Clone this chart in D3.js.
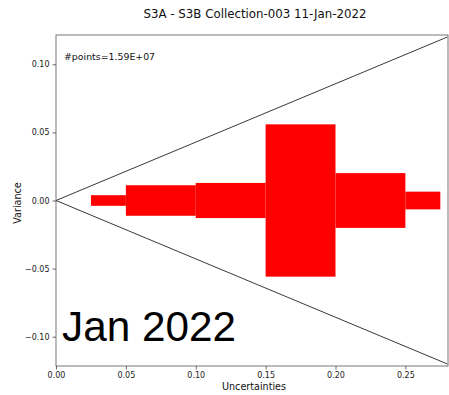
<!DOCTYPE html>
<html><head><meta charset="utf-8">
<script src="https://cdn.jsdelivr.net/npm/d3@7"></script>
<style>body{margin:0;background:#fff}svg{display:block}</style>
</head><body>
<script>
const binStart = [0.025, 0.05, 0.10, 0.15, 0.20, 0.25];
const binEnd   = [0.05, 0.10, 0.15, 0.20, 0.25, 0.275];
const halfSpread = [0.0039, 0.0112, 0.0129, 0.0559, 0.0201, 0.0065];
const xTicks = [0.00, 0.05, 0.10, 0.15, 0.20, 0.25];
const yTicks = [-0.10, -0.05, 0.00, 0.05, 0.10];
const envelopeX = [0, 0.28];
const envelopeY = [0, 0.12];
const titleText = "S3A - S3B Collection-003 11-Jan-2022";
const pointsText = "#points=1.59E+07";
const bigText = "Jan 2022";

const W = 449, H = 395;
const m = {left:56, right:448, top:35, bottom:366};
const svg = d3.select("body").append("svg").attr("width", W).attr("height", H);
const x = d3.scaleLinear().domain([0, 0.2805]).range([m.left, m.right]);
const y = d3.scaleLinear().domain([-0.1215, 0.1215]).range([m.bottom, m.top]);

const font = "DejaVu Sans";
svg.append("g").selectAll("rect").data(binStart).join("rect")
  .attr("x", (d,i)=>x(d))
  .attr("width", (d,i)=>x(binEnd[i]) - x(d))
  .attr("y", (d,i)=>y(halfSpread[i]))
  .attr("height", (d,i)=>y(-halfSpread[i]) - y(halfSpread[i]))
  .attr("fill", "#ff0000");

const line = d3.line().x(d=>x(d[0])).y(d=>y(d[1]));
[1,-1].forEach(s=>{
  svg.append("path")
    .attr("d", line(envelopeX.map((v,i)=>[v, s*envelopeY[i]])))
    .attr("stroke", "#222").attr("stroke-width", 0.9).attr("fill", "none");
});

svg.append("rect").attr("x", m.left).attr("y", m.top)
  .attr("width", m.right - m.left).attr("height", m.bottom - m.top)
  .attr("fill", "none").attr("stroke", "#555").attr("stroke-width", 0.8);

const fmtX = d3.format(".2f");
const fmtY = v => (v < 0 ? "\u2212" : "") + d3.format(".2f")(Math.abs(v));
const gx = svg.append("g").attr("transform", `translate(0,${m.bottom})`)
  .call(d3.axisBottom(x).tickValues(xTicks).tickFormat(fmtX).tickSize(3.5).tickPadding(3));
const gy = svg.append("g").attr("transform", `translate(${m.left},0)`)
  .call(d3.axisLeft(y).tickValues(yTicks).tickFormat(fmtY).tickSize(3.5).tickPadding(3));
[gx, gy].forEach(g=>{
  g.select(".domain").remove();
  g.selectAll("line").attr("stroke", "#444").attr("stroke-width", 0.8);
  g.selectAll("text").attr("font-family", font).attr("font-size", 8).attr("fill", "#222");
});

svg.append("text").attr("x", 254).attr("y", 366 + 24).attr("text-anchor", "middle")
  .attr("font-family", font).attr("font-size", 9.6).attr("fill", "#111").text("Uncertainties");
svg.append("text").attr("transform", "translate(21,203) rotate(-90)").attr("text-anchor", "middle")
  .attr("font-family", font).attr("font-size", 9.6).attr("fill", "#111").text("Variance");
svg.append("text").attr("x", 255).attr("y", 18).attr("text-anchor", "middle")
  .attr("font-family", font).attr("font-size", 11.8).attr("fill", "#111").text(titleText);
svg.append("text").attr("x", 64).attr("y", 60)
  .attr("font-family", font).attr("font-size", 9.4).attr("fill", "#111").text(pointsText);
svg.append("text").attr("x", 62).attr("y", 341)
  .attr("font-family", "Liberation Sans").attr("font-size", 42.3).attr("fill", "#000").text(bigText);
</script>
</body></html>
